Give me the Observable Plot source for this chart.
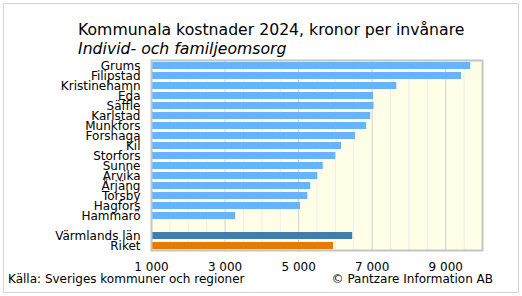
<!DOCTYPE html>
<html>
<head>
<meta charset="utf-8">
<script src="https://cdn.jsdelivr.net/npm/d3@7"></script>
<script src="https://cdn.jsdelivr.net/npm/@observablehq/plot@0.6"></script>
<style>
  html, body { margin: 0; padding: 0; background: #fff; }
  #wrap { position: relative; width: 522px; height: 296px; font-family: "DejaVu Sans", Verdana, sans-serif; color: #000; }
  #border { position: absolute; left: 3px; top: 3px; width: 514px; height: 288px; border: 1px solid #d4d4d4; }
  #title { position: absolute; left: 78px; top: 21px; font-size: 15.7px; line-height: 18.5px; white-space: nowrap; }
  #title .sub { font-style: italic; }
  #chart { position: absolute; left: 0; top: 0; }
  #source { position: absolute; left: 8px; top: 272px; font-size: 12px; white-space: nowrap; }
  #copy { position: absolute; right: 29px; top: 272px; font-size: 12px; white-space: nowrap; }
</style>
</head>
<body>
<div id="wrap">
  <div id="border"></div>
  <div id="chart"></div>
  <div id="title"><div>Kommunala kostnader 2024, kronor per invånare</div><div class="sub">Individ- och familjeomsorg</div></div>
  <div id="source">Källa: Sveriges kommuner och regioner</div>
  <div id="copy">© Pantzare Information AB</div>
</div>
<script>
// Municipalities in Värmland, sorted by cost per inhabitant (SEK)
const kommuner = ["Grums", "Filipstad", "Kristinehamn", "Eda", "Säffle", "Karlstad", "Munkfors", "Forshaga", "Kil", "Storfors", "Sunne", "Arvika", "Årjäng", "Torsby", "Hagfors", "Hammarö"];
const kommunVarden = [9680, 9430, 7670, 7040, 7050, 6960, 6850, 6550, 6170, 6010, 5670, 5520, 5330, 5250, 5050, 3290];

// Regional and national comparison rows
const jamforelse = ["Värmlands län", "Riket"];
const jamforelseVarden = [6470, 5950];

// Axis settings
const xDomain = [1000, 10000];
const tickValues = [1000, 3000, 5000, 7000, 9000];
const tickLabels = ["1 000", "3 000", "5 000", "7 000", "9 000"];
const gridStep = 500;

const farger = { kommun: "#66b3ff", lan: "#3d80b0", riket: "#e87a00" };

// An empty band separates the municipalities from the comparison rows
const spacer = "\u200b";
const rows = [
  ...kommuner.map((namn, i) => ({ namn, varde: kommunVarden[i], typ: "kommun" })),
  ...jamforelse.map((namn, i) => ({ namn, varde: jamforelseVarden[i], typ: i === 0 ? "lan" : "riket" }))
];
const yDomain = [...kommuner, spacer, ...jamforelse];

const minorGrid = d3.range(xDomain[0], xDomain[1] + 1, gridStep).filter(v => !tickValues.includes(v));

const chart = Plot.plot({
  width: 522,
  height: 296,
  marginTop: 60,
  marginBottom: 46,
  marginLeft: 151,
  marginRight: 40,
  style: { fontFamily: "DejaVu Sans, Verdana, sans-serif", fontSize: "12px", background: "transparent", color: "#000" },
  x: { domain: xDomain, ticks: tickValues, tickFormat: v => tickLabels[tickValues.indexOf(v)], tickSize: 0, tickPadding: 12, label: null },
  y: { domain: yDomain, ticks: [...kommuner, ...jamforelse], paddingInner: 0.3, paddingOuter: 0.15, tickSize: 0, tickPadding: 11, label: null },
  color: { domain: Object.keys(farger), range: Object.values(farger) },
  marks: [
    Plot.frame({ fill: "#ffffe8" }),
    Plot.ruleX(minorGrid, { stroke: "#ececec", strokeWidth: 1 }),
    Plot.ruleX(tickValues, { stroke: "#d0d0d0", strokeWidth: 1 }),
    Plot.barX(rows, { y: "namn", x1: xDomain[0], x2: "varde", fill: "typ" }),
    Plot.frame({ stroke: "#c4c4c4", strokeWidth: 2 })
  ]
});
document.getElementById("chart").appendChild(chart);
</script>
</body>
</html>
